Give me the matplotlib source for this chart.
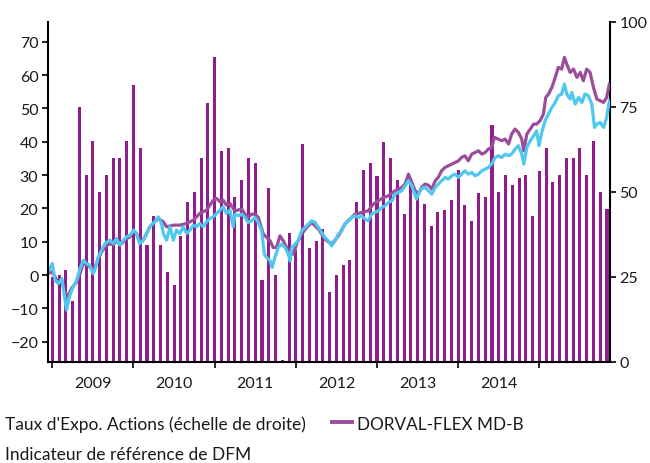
import numpy as np
import matplotlib
matplotlib.use("Agg")
import matplotlib.pyplot as plt
from matplotlib.lines import Line2D

plt.rcParams['font.family'] = ['Lato', 'DejaVu Sans']

# Monthly equity exposure (right scale), Jan 2009 -> Nov 2015
expo = [25, 25.5, 27, 18, 75, 55, 65, 50, 55, 60, 60, 65,
        81.5, 63, 34.5, 43, 34.5, 26.5, 22.5, 37, 47, 50, 60, 76,
        89.5, 62, 63, 48.5, 53.5, 60, 58.5, 24, 51, 25.5, 0.5, 38,
        33, 64, 33.5, 35.5, 39, 20.5, 25.5, 28.5, 30, 47, 56.5, 58.5,
        54.5, 64.5, 60, 53.5, 43.5, 53, 49, 46.5, 40, 44, 44.5, 47.5,
        56.5, 46, 41.5, 49.5, 48.5, 69.5, 50, 55, 52, 54, 55, 43,
        56, 63, 53, 55, 60, 60, 63, 55, 65, 50, 45]
years = ['2009', '2010', '2011', '2012', '2013', '2014']

# DORVAL-FLEX MD-B (left scale), time in months since Jan 2009
t_fund = [-0.6, 0.0, 0.4, 0.9, 1.4, 1.75, 2.25, 2.85, 3.6, 4.1, 4.55, 5.05, 5.55, 6.05,
          6.8, 7.3, 7.8, 8.5, 9.0, 9.5, 10.0, 10.5, 11.0, 11.5, 12.0, 12.45, 12.95, 13.45,
          13.95, 14.4, 15.15, 15.65, 16.4, 16.9, 17.9, 18.85, 19.85, 20.85, 21.8, 22.8,
          23.8, 24.3, 24.8, 25.25, 25.75, 26.25,
          27.0, 28.0, 28.5, 28.95, 29.45, 29.95, 30.45, 31.2, 31.7, 32.2, 32.65, 33.15,
          33.65, 34.15, 34.65, 35.15, 35.65, 36.1, 36.85, 37.6, 38.35, 38.85, 39.35, 40.3,
          41.3, 42.3, 43.25, 44.25, 44.75, 45.75, 46.7, 47.45, 48.2, 48.95, 49.7, 50.65,
          51.15, 51.65, 52.15, 52.65, 53.15, 53.65, 54.1, 54.6,
          55.1, 55.6, 56.1, 56.6, 57.05, 57.55, 58.05, 58.55, 59.05, 59.55, 60.05, 60.5,
          61.0, 61.5, 62.0, 62.5, 63.0, 63.5, 64.0, 64.45, 64.95, 65.35, 65.95, 66.45,
          66.95, 67.45, 67.9, 68.4, 68.9, 69.4, 69.7, 70.15, 70.65, 71.15, 71.6, 72.1,
          72.6, 72.95, 73.35, 73.85, 74.35, 74.8, 75.3, 75.7, 76.05, 76.55, 77.05, 77.55,
          78.05, 78.5, 79.0, 79.5, 80.0, 80.5, 81.0, 81.5, 81.95, 82.35]
fund = [0.5, 1.0, -0.5, -2.5, -1.5, -4.5, -6.5, -4.0, -2.0, 0.5, 3.5, 3.0, 2.5, 1.0,
        5.0, 7.0, 8.5, 9.5, 9.0, 10.5, 9.0, 10.0, 11.0, 11.5, 13.0, 12.5, 9.5, 10.5,
        12.5, 14.5, 16.0, 17.0, 16.0, 14.5, 15.0, 15.0, 15.5, 16.5, 18.5, 19.5,
        22.5, 23.0, 22.0, 22.5, 21.0, 21.5,
        19.3, 19.8, 18.3, 17.3, 18.3, 18.3, 17.3, 12.3, 11.3, 10.3, 8.3, 8.3,
        11.8, 10.3, 8.3, 6.3, 6.3, 9.3, 12.3, 14.3, 15.8, 14.8, 13.8, 10.8,
        9.3, 11.8, 15.3, 17.3, 18.3, 18.8, 19.3, 21.3, 22.3, 23.3, 23.8, 25.3,
        25.8, 26.3, 27.3, 30.3, 27.8, 25.3, 24.3, 26.3,
        27.3, 27.0, 25.8, 28.3, 29.3, 31.3, 32.3, 32.8, 33.3, 33.8, 34.3, 35.3,
        35.8, 34.3, 36.3, 36.8, 37.3, 36.3, 36.8, 37.8, 38.3, 41.3, 40.8, 40.3,
        40.8, 39.3, 42.3, 43.8, 42.8, 40.8, 37.3, 42.3, 43.8, 45.3, 45.3, 46.3,
        48.3, 53.3, 54.3, 56.3, 59.3, 62.3, 61.8, 65.3, 63.3, 60.8, 61.8, 59.3,
        60.8, 58.3, 61.8, 60.8, 56.3, 52.8, 52.3, 51.8, 53.3, 57.3]

# Indicateur de reference de DFM (left scale)
t_bench = [-0.6, 0.0, 0.4, 0.9, 1.4, 1.75, 2.1, 2.6, 3.1, 3.6, 4.1, 4.6, 5.05, 5.55,
           6.0, 6.3, 6.8, 7.3, 7.8, 8.5, 9.0, 9.5, 10.0, 10.5, 11.0, 11.5, 12.0, 12.45,
           12.95, 13.45, 13.95, 14.4, 15.15, 15.65, 16.15, 16.4, 16.9, 17.4, 17.9, 18.35,
           18.85, 19.35, 19.85, 20.35, 20.85, 21.3, 21.8, 22.3, 22.8, 23.3, 23.8, 24.3,
           24.8, 25.25, 25.75, 26.25, 26.75,
           27.0, 27.5, 28.0, 28.5, 28.95, 29.45, 29.95, 30.45, 30.95, 31.35, 31.7, 32.2,
           32.5, 32.9, 33.4, 33.9, 34.4, 34.9, 35.15, 35.4, 35.9, 36.35, 36.85, 37.35,
           37.85, 38.35, 38.85, 39.35, 39.8, 40.3, 40.8, 41.3, 41.8, 42.3, 42.8, 43.25,
           43.75, 44.25, 44.75, 45.25, 45.75, 46.25, 46.7, 47.2, 47.7, 48.2, 48.7, 49.2,
           49.7, 50.2, 50.65, 51.15, 51.65, 52.15, 52.65, 53.15, 53.65, 53.85, 54.35, 54.85,
           55.1, 55.6, 56.1, 56.6, 57.05, 57.55, 58.05, 58.55, 59.05, 59.55, 60.05, 60.5,
           61.0, 61.5, 62.0, 62.5, 63.0, 63.5, 64.0, 64.45, 64.95, 65.45, 65.95, 66.45,
           66.95, 67.45, 67.9, 68.4, 68.9, 69.4, 69.7, 70.15, 70.65, 71.15, 71.6, 71.95,
           72.35, 72.85, 73.35, 73.85, 74.35, 74.8, 75.3, 75.7, 76.05, 76.55, 76.8, 77.3,
           77.8, 78.3, 78.75, 79.25, 79.75, 80.15, 80.5, 81.0, 81.5, 81.95, 82.35]
bench = [1.0, 3.5, -1.5, -2.5, -1.0, -5.5, -10.5, -6.0, -3.5, -1.5, 2.0, 4.5, 3.5, 3.0,
         0.5, 1.5, 5.5, 7.5, 9.5, 10.5, 9.5, 11.0, 9.0, 10.5, 11.5, 12.0, 13.5, 12.5,
         9.5, 10.5, 12.5, 14.5, 16.0, 17.5, 15.5, 12.5, 10.5, 14.5, 10.5, 13.5,
         12.5, 14.5, 12.5, 13.5, 15.0, 14.5, 15.5, 14.5, 16.0, 17.0, 17.5, 18.5,
         19.5, 20.5, 18.5, 19.5, 14.5,
         18.3, 17.8, 18.3, 17.3, 15.8, 16.3, 17.3, 15.8, 13.3, 6.3, 5.3, 4.3,
         2.3, 5.3, 8.3, 9.3, 8.3, 6.3, 4.3, 8.3, 9.3, 10.3, 13.3, 14.3,
         15.3, 16.3, 15.8, 14.3, 12.8, 11.3, 10.3, 8.8, 10.3, 12.3, 13.3, 15.3,
         16.3, 17.3, 17.8, 17.3, 17.8, 16.8, 16.3, 18.3, 18.8, 19.3, 20.3, 20.8,
         21.8, 22.3, 24.3, 24.8, 25.3, 26.8, 28.3, 26.8, 23.8, 22.8, 25.3, 26.3,
         26.3, 25.3, 24.3, 26.3, 27.3, 28.3, 29.3, 28.8, 29.8, 30.3, 29.3, 30.3,
         31.3, 30.3, 30.8, 29.8, 30.3, 31.3, 31.8, 32.3, 33.3, 35.3, 35.8, 35.3,
         36.3, 35.8, 36.3, 37.8, 38.8, 36.3, 33.3, 38.3, 40.3, 41.8, 43.3, 38.8,
         42.8, 46.3, 48.3, 50.3, 51.8, 53.8, 54.3, 57.3, 54.3, 52.8, 54.8, 51.3,
         53.3, 51.8, 54.3, 53.8, 51.3, 44.3, 45.3, 45.8, 44.3, 47.3, 52.3]

bar_color = '#911d8c'
fund_color = '#9b4c9b'
bench_color = '#4ec8ef'
txt = '#1a1a1a'

fig = plt.figure(figsize=(6.5, 4.64), dpi=100)
ax = fig.add_axes([0.074, 0.218, 0.864, 0.733])
ax2 = ax.twinx()

# bars on the base axes, y scale shown on the right
months = np.arange(len(expo))
ax.bar(months, expo, width=0.45, color=bar_color, zorder=1)
ax.set_ylim(0, 100)
ax.yaxis.tick_right()
ax.set_yticks([0, 25, 50, 75, 100])

# lines on top, y scale on the left
ax2.plot(t_fund, fund, color=fund_color, lw=2.3)
ax2.plot(t_bench, bench, color=bench_color, lw=2.3)
ax2.set_ylim(-26, 76)
ax2.yaxis.tick_left()
ax2.set_yticks(range(-20, 71, 10))

ax.set_xlim(-0.62, 82.4)
ax.set_xticks(range(0, 73, 12))
ax.set_xticklabels([])
ax.set_xticks([6 + 12 * i for i in range(len(years))], minor=True)
ax.set_xticklabels(years, minor=True)
ax.tick_params(axis='x', which='minor', length=0, pad=10, labelsize=11.5, labelcolor=txt)
ax.tick_params(axis='x', which='major', length=4, width=1.2, direction='out')
ax.tick_params(axis='y', length=4, width=1.2, labelsize=11.5, labelcolor=txt, pad=3)
ax2.tick_params(axis='y', length=4, width=1.2, labelsize=11.5, labelcolor=txt, pad=3)

for s in ['top', 'left']:
    ax.spines[s].set_visible(False)
for s in ['top', 'right', 'bottom']:
    ax2.spines[s].set_visible(False)
ax.spines['bottom'].set_linewidth(1.5)
ax.spines['right'].set_linewidth(1.5)
ax2.spines['left'].set_linewidth(1.5)

# legend, drawn by hand below the axes
fig.text(5 / 650, 1 - 425 / 464, "Taux d'Expo. Actions (échelle de droite)",
         fontsize=12.5, color=txt, va='center', ha='left')
fig.add_artist(Line2D([332 / 650, 352 / 650], [1 - 423 / 464, 1 - 423 / 464],
                      color=fund_color, lw=2.8))
fig.text(357 / 650, 1 - 425 / 464, "DORVAL-FLEX MD-B",
         fontsize=12.3, color=txt, va='center', ha='left')
fig.text(5 / 650, 1 - 455 / 464, "Indicateur de référence de DFM",
         fontsize=12.5, color=txt, va='center', ha='left')

fig.savefig('out.png', dpi=100)
